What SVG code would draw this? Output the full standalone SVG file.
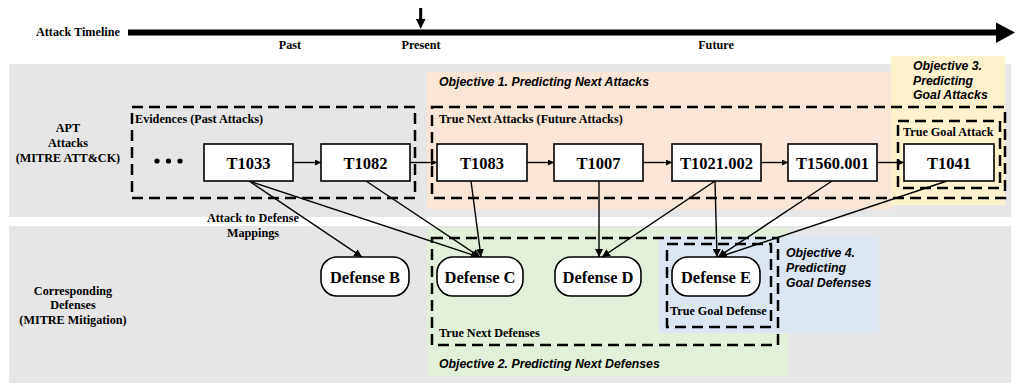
<svg xmlns="http://www.w3.org/2000/svg" width="1016" height="384" viewBox="0 0 1016 384">
<style>
.band{fill:#E6E6E6}
.dash{fill:none;stroke:#000;stroke-width:2.5;stroke-dasharray:11 6}
.node{fill:#fff;stroke:#000;stroke-width:1.6}
.nt{font-family:"Liberation Serif","Times New Roman",serif;font-weight:bold;font-size:16.5px;text-anchor:middle}
.lbl{font-family:"Liberation Serif","Times New Roman",serif;font-weight:bold;font-size:12.2px}
.side{font-family:"Liberation Serif","Times New Roman",serif;font-weight:bold;font-size:12.2px;text-anchor:middle}
.obj{font-family:"Liberation Sans",Arial,sans-serif;font-weight:bold;font-style:italic;font-size:12.3px}
.con{fill:none;stroke:#000;stroke-width:1.4}
</style>
<defs>
<marker id="ah" viewBox="0 0 10 10" refX="10" refY="5" markerWidth="6" markerHeight="6" markerUnits="userSpaceOnUse" orient="auto"><path d="M0,0L10,5L0,10z" fill="#000"/></marker>
<marker id="am" viewBox="0 0 10 10" refX="10" refY="5" markerWidth="8" markerHeight="8" markerUnits="userSpaceOnUse" orient="auto"><path d="M0,0L10,5L0,10z" fill="#000"/></marker>
</defs>

<g id="timeline">
<rect x="128" y="29.5" width="872" height="6" fill="#000"/>
<path d="M996,22.5L1015,32.5L996,43z" fill="#000"/>
<path d="M420.7,8V21" stroke="#000" stroke-width="3"/>
<path d="M416,19L425.5,19L420.7,29z" fill="#000"/>
<text class="lbl" x="36" y="36">Attack Timeline</text>
<text class="lbl" x="290" y="49" text-anchor="middle">Past</text>
<text class="lbl" x="421" y="49" text-anchor="middle">Present</text>
<text class="lbl" x="716" y="49" text-anchor="middle">Future</text>
</g>

<g id="bands">
<rect class="band" x="9" y="64" width="1002" height="153"/>
<rect class="band" x="9" y="226" width="1002" height="157"/>
<rect x="427" y="72" width="466" height="137" fill="#FBE5D6"/>
<rect x="891" y="56" width="114" height="149" fill="#FFF2CC"/>
<rect x="427" y="228" width="361" height="148" fill="#E2F0D9"/>
<rect x="659" y="236" width="220" height="97" fill="#DCE6F2"/>
</g>

<g id="groups">
<rect class="dash" x="132" y="107" width="283" height="91"/>
<rect class="dash" x="432" y="107" width="573" height="91"/>
<rect class="dash" x="898" y="121" width="102" height="67"/>
<rect class="dash" x="432" y="238" width="346" height="107"/>
<rect class="dash" x="667" y="244" width="104" height="83"/>
<text class="lbl" x="135" y="123">Evidences (Past Attacks)</text>
<text class="lbl" x="439" y="123">True Next Attacks (Future Attacks)</text>
<text class="lbl" x="903" y="136">True Goal Attack</text>
<text class="lbl" x="439" y="337">True Next Defenses</text>
<text class="lbl" x="670" y="315">True Goal Defense</text>
</g>

<g id="objectives">
<text class="obj" x="439" y="86">Objective 1. Predicting Next Attacks</text>
<text class="obj" x="439" y="368">Objective 2. Predicting Next Defenses</text>
<text class="obj" x="913" y="70">Objective 3.</text>
<text class="obj" x="913" y="85">Predicting</text>
<text class="obj" x="913" y="99">Goal Attacks</text>
<text class="obj" x="786" y="257">Objective 4.</text>
<text class="obj" x="786" y="272">Predicting</text>
<text class="obj" x="786" y="287">Goal Defenses</text>
</g>

<g id="side-labels">
<text class="side" x="68" y="132">APT</text>
<text class="side" x="68" y="147">Attacks</text>
<text class="side" x="68" y="162">(MITRE ATT&amp;CK)</text>
<text class="side" x="73" y="295">Corresponding</text>
<text class="side" x="73" y="309">Defenses</text>
<text class="side" x="73" y="324">(MITRE Mitigation)</text>
<text class="side" x="253" y="222">Attack to Defense</text>
<text class="side" x="253" y="237">Mappings</text>
</g>

<g id="connectors">
<path class="con" marker-end="url(#ah)" d="M293,162.5H321"/>
<path class="con" marker-end="url(#ah)" d="M410,162.5H437"/>
<path class="con" marker-end="url(#ah)" d="M527,162.5H554"/>
<path class="con" marker-end="url(#ah)" d="M643,162.5H672"/>
<path class="con" marker-end="url(#ah)" d="M761,162.5H788"/>
<path class="con" marker-end="url(#ah)" d="M877,162.5H904"/>
<path class="con" marker-end="url(#am)" d="M249,181L362,257"/>
<path class="con" marker-end="url(#am)" d="M249,181L479,257"/>
<path class="con" marker-end="url(#am)" d="M366,181L480,257"/>
<path class="con" marker-end="url(#am)" d="M471,181L481,257"/>
<path class="con" marker-end="url(#am)" d="M599,181L599,257"/>
<path class="con" marker-end="url(#am)" d="M715,181L602,257"/>
<path class="con" marker-end="url(#am)" d="M715,181L717,257"/>
<path class="con" marker-end="url(#am)" d="M832,181L718,257"/>
<path class="con" marker-end="url(#am)" d="M947,181L719,257"/>
</g>

<g id="dots">
<circle cx="157" cy="161" r="2.6"/>
<circle cx="168.5" cy="161" r="2.6"/>
<circle cx="180" cy="161" r="2.6"/>
</g>

<g id="T1033"><rect class="node" x="204" y="144" width="89" height="37"/><text class="nt" x="248.5" y="168.5">T1033</text></g>
<g id="T1082"><rect class="node" x="321" y="144" width="89" height="37"/><text class="nt" x="365.5" y="168.5">T1082</text></g>
<g id="T1083"><rect class="node" x="437" y="144" width="90" height="37"/><text class="nt" x="482" y="168.5">T1083</text></g>
<g id="T1007"><rect class="node" x="554" y="144" width="89" height="37"/><text class="nt" x="598.5" y="168.5">T1007</text></g>
<g id="T1021"><rect class="node" x="672" y="144" width="89" height="37"/><text class="nt" x="716.5" y="168.5">T1021.002</text></g>
<g id="T1560"><rect class="node" x="788" y="144" width="89" height="37"/><text class="nt" x="832.5" y="168.5">T1560.001</text></g>
<g id="T1041"><rect class="node" x="904" y="144" width="90" height="37"/><text class="nt" x="949" y="168.5">T1041</text></g>

<g id="DefenseB"><rect class="node" x="321" y="257" width="88" height="39" rx="16"/><text class="nt" x="365" y="282.5">Defense B</text></g>
<g id="DefenseC"><rect class="node" x="437" y="257" width="86" height="39" rx="16"/><text class="nt" x="480" y="282.5">Defense C</text></g>
<g id="DefenseD"><rect class="node" x="555" y="257" width="86" height="39" rx="16"/><text class="nt" x="598" y="282.5">Defense D</text></g>
<g id="DefenseE"><rect class="node" x="672" y="257" width="88" height="39" rx="16"/><text class="nt" x="716" y="282.5">Defense E</text></g>
</svg>
